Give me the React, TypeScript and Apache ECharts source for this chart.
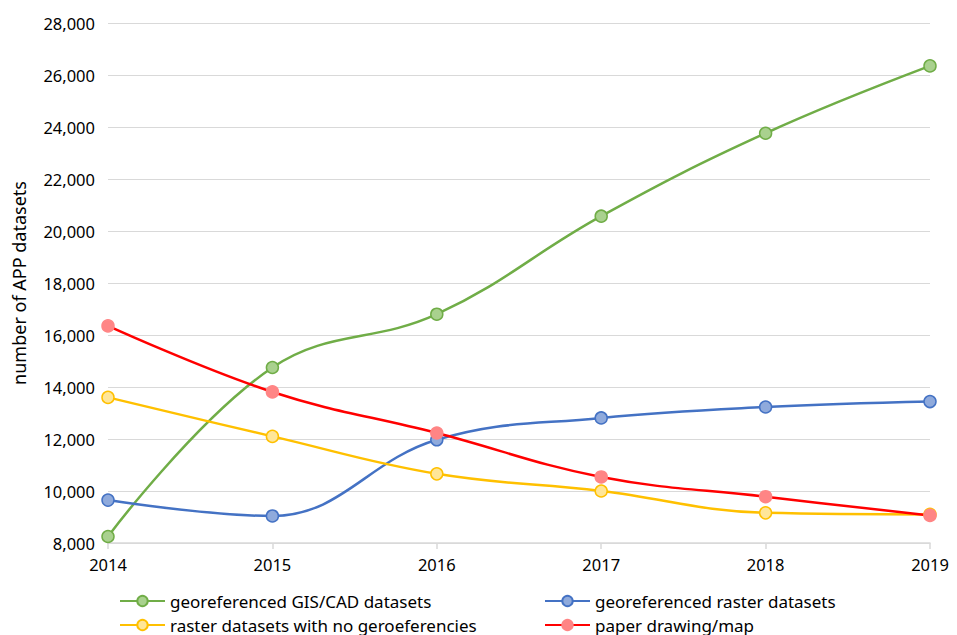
import React, { useEffect, useRef } from "react";
import * as echarts from "echarts";

const years = ["2014", "2015", "2016", "2017", "2018", "2019"];
const gisCad = [8250, 14750, 16800, 20570, 23760, 26350];
const rasterGeo = [9650, 9040, 11970, 12810, 13230, 13440];
const rasterNoGeo = [13600, 12100, 10660, 10000, 9160, 9100];
const paperMap = [16350, 13810, 12230, 10540, 9780, 9060];

const seriesNames = [
  "georeferenced GIS/CAD datasets",
  "georeferenced raster datasets",
  "raster datasets with no geroeferencies",
  "paper drawing/map",
];

const FONT = "Noto Sans";

export default function App() {
  const ref = useRef<HTMLDivElement>(null);
  useEffect(() => {
    if (!ref.current) return;
    const chart = echarts.init(ref.current, undefined, { renderer: "svg" });
    const mk = (name: string, data: number[], line: string, fill: string, border: string) => ({
      name,
      type: "line",
      data,
      smooth: 0.4,
      symbol: "circle",
      symbolSize: 12,
      lineStyle: { color: line, width: 2.5 },
      itemStyle: { color: fill, borderColor: border, borderWidth: 1.5 },
      emphasis: { disabled: true },
    });
    const legendBase = {
      itemWidth: 45,
      itemHeight: 13,
      itemGap: 4,
      padding: 0,
      textStyle: { fontFamily: FONT, fontSize: 17, lineHeight: 18, color: "#000" },
    };
    chart.setOption({
      animation: false,
      backgroundColor: "#fff",
      grid: { left: 108, right: 27, top: 23, bottom: 92 },
      xAxis: {
        type: "category",
        data: years,
        boundaryGap: false,
        axisLine: { lineStyle: { color: "#d9d9d9", width: 1.5 } },
        axisTick: { show: true, length: 6, lineStyle: { color: "#d9d9d9", width: 1.5 } },
        axisLabel: { fontFamily: FONT, fontSize: 16.5, color: "#000", margin: 13 },
      },
      yAxis: {
        type: "value",
        min: 8000,
        max: 28000,
        interval: 2000,
        name: "number of APP datasets",
        nameLocation: "middle",
        nameGap: 80,
        nameTextStyle: { fontFamily: FONT, fontSize: 18, color: "#000" },
        axisLine: { show: false },
        axisTick: { show: false },
        splitLine: { lineStyle: { color: "#d9d9d9", width: 1 } },
        axisLabel: {
          fontFamily: FONT,
          fontSize: 16.5,
          color: "#000",
          margin: 13,
          formatter: (v: number) => v.toLocaleString("en-US"),
        },
      },
      legend: [
        { ...legendBase, data: [seriesNames[0]], left: 119, top: 592 },
        { ...legendBase, data: [seriesNames[1]], left: 544, top: 592 },
        { ...legendBase, data: [seriesNames[2]], left: 119, top: 616 },
        { ...legendBase, data: [seriesNames[3]], left: 544, top: 616 },
      ],
      series: [
        mk(seriesNames[0], gisCad, "#70ad47", "#a9d18e", "#70ad47"),
        mk(seriesNames[1], rasterGeo, "#4472c4", "#8faadc", "#4472c4"),
        mk(seriesNames[2], rasterNoGeo, "#ffc000", "#ffe699", "#ffc000"),
        mk(seriesNames[3], paperMap, "#ff0000", "#ff8585", "#ff8585"),
      ],
    });
    return () => chart.dispose();
  }, []);
  return <div ref={ref} style={{ width: 957, height: 635, position: "absolute", left: 0, top: 0 }} />;
}
